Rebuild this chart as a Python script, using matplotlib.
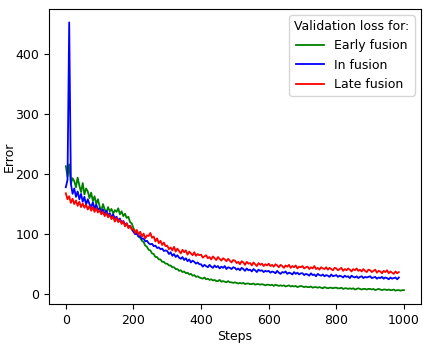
import numpy as np
import matplotlib
matplotlib.use('Agg')
import matplotlib.pyplot as plt

steps_early = np.arange(0, 1001, 5)
steps_in = np.arange(0, 986, 5)
steps_late = np.arange(0, 986, 5)

early = [
    213, 196, 216, 184, 193, 188, 178, 194, 181, 170, 185, 166, 176, 171, 160, 169, 155, 163, 150, 158,
    146, 139, 150, 141, 136, 145, 138, 142, 134, 140, 137, 143, 133, 138, 130, 134, 127, 129, 120, 118,
    110, 105, 102, 96, 94, 89, 87, 81, 79, 74, 73, 68, 67, 62, 62, 58, 58, 54, 54, 51,
    51, 48, 48, 45, 45, 42, 42, 39, 40, 37, 38, 35, 36, 33, 34, 31, 32, 29, 30, 28,
    27, 26, 28, 25, 26, 24, 25, 23, 24, 22, 22, 24, 21, 22, 21, 20, 22, 20, 20, 19,
    20, 19, 18, 19, 18, 19, 17, 18, 18, 17, 17, 18, 16, 17, 17, 16, 17, 16, 15, 16,
    16, 15, 16, 14, 16, 15, 14, 15, 14, 15, 13, 14, 15, 13, 14, 13, 14, 12, 13, 14,
    13, 12, 13, 12, 12, 13, 11, 12, 12, 11, 12, 11, 10, 12, 11, 10, 11, 11, 10, 11,
    11, 10, 10, 11, 9, 10, 10, 9, 10, 9, 10, 8, 9, 10, 9, 8, 9, 9, 8, 9,
    9, 8, 9, 7, 8, 9, 8, 7, 8, 8, 7, 8, 7, 7, 8, 6, 7, 7, 6, 7, 7,
]

in_fusion = [
    178, 190, 452, 184, 167, 176, 162, 171, 158, 167, 154, 162, 149, 158, 150, 145, 153, 142, 149, 141,
    143, 136, 141, 133, 139, 131, 135, 128, 133, 126, 129, 123, 126, 119, 122, 116, 118, 112, 114, 108,
    104, 100, 101, 96, 97, 92, 93, 88, 89, 85, 83, 84, 80, 81, 77, 78, 75, 76, 72, 73,
    72, 67, 70, 64, 67, 62, 65, 61, 59, 62, 57, 60, 55, 58, 53, 56, 54, 51, 53, 50,
    50, 46, 49, 47, 45, 49, 46, 44, 48, 45, 47, 43, 46, 44, 47, 42, 45, 44, 42, 45,
    44, 41, 43, 40, 44, 42, 39, 43, 40, 41, 38, 42, 40, 37, 41, 39, 40, 37, 39, 38,
    39, 36, 38, 37, 35, 39, 36, 34, 37, 36, 38, 34, 36, 35, 33, 37, 34, 36, 33, 35,
    35, 32, 34, 33, 31, 35, 32, 33, 30, 34, 32, 31, 33, 30, 32, 31, 29, 33, 30, 31,
    32, 29, 31, 30, 28, 31, 29, 30, 27, 31, 29, 28, 30, 27, 29, 30, 27, 29, 28, 29,
    30, 27, 28, 29, 26, 28, 27, 29, 26, 28, 27, 25, 28, 26, 27, 28, 25, 28,
]

late = [
    168, 158, 163, 152, 159, 150, 156, 147, 154, 145, 151, 144, 149, 141, 147, 139, 145, 137, 143, 136,
    140, 133, 137, 130, 135, 128, 132, 125, 129, 121, 127, 120, 124, 117, 121, 113, 118, 110, 114, 108,
    108, 102, 107, 99, 104, 96, 101, 93, 98, 97, 102, 94, 96, 88, 93, 85, 89, 82, 86, 80,
    81, 75, 78, 73, 79, 71, 76, 72, 68, 74, 70, 73, 66, 71, 68, 65, 70, 64, 67, 65,
    66, 61, 63, 65, 60, 62, 58, 63, 60, 57, 62, 59, 56, 60, 58, 55, 59, 56, 53, 57,
    56, 52, 54, 50, 55, 53, 49, 54, 51, 52, 48, 53, 50, 47, 52, 49, 51, 47, 50, 48,
    51, 47, 49, 46, 50, 48, 45, 49, 47, 44, 48, 46, 49, 44, 47, 45, 48, 43, 46, 45,
    47, 43, 45, 46, 42, 45, 43, 47, 42, 44, 41, 45, 43, 42, 45, 41, 44, 42, 40, 44,
    43, 40, 42, 44, 39, 42, 40, 43, 41, 38, 42, 40, 43, 39, 41, 38, 42, 39, 37, 41,
    40, 37, 39, 41, 36, 39, 38, 35, 39, 37, 40, 35, 38, 36, 34, 38, 35, 37,
]

fig = plt.figure(figsize=(4.29, 3.46), dpi=100)
ax = fig.add_axes([0.114, 0.121, 0.867, 0.853])

ax.plot(steps_early, early, color='green', lw=1.3, label='Early fusion')
ax.plot(steps_in, in_fusion, color='blue', lw=1.3, label='In fusion')
ax.plot(steps_late, late, color='red', lw=1.3, label='Late fusion')

ax.set_xlabel('Steps', fontsize=9, labelpad=2)
ax.set_ylabel('Error', fontsize=9)
ax.yaxis.set_label_coords(-0.088, 0.5)
ax.tick_params(labelsize=9)
ax.set_xticks([0, 200, 400, 600, 800, 1000])
ax.set_yticks([0, 100, 200, 300, 400])

leg = ax.legend(title='Validation loss for:', loc='upper right', fontsize=9,
                title_fontsize=9, handlelength=2.2)

fig.savefig('out.png', dpi=100)
